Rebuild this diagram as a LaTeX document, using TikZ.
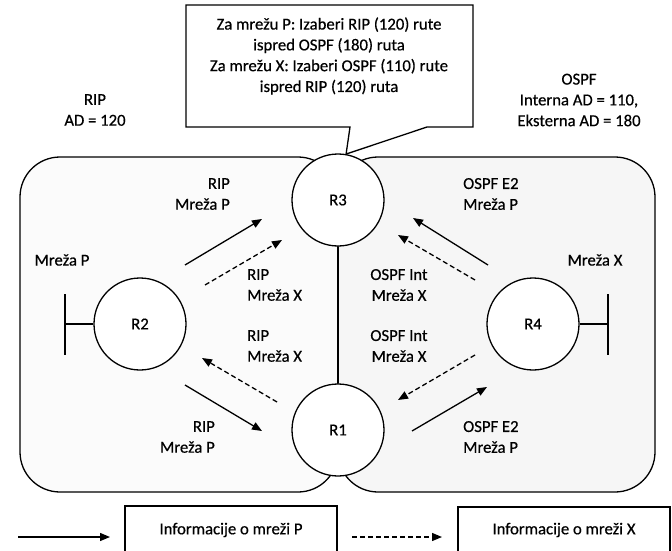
\documentclass[tikz,border=0pt]{standalone}
\usepackage{fontspec}
\setmainfont{Carlito}[FakeBold=0.5]
\usetikzlibrary{arrows.meta}
\begin{document}
\begin{tikzpicture}[x=1pt,y=-1pt,
  lw/.style={line width=1.3pt},
  txt/.style={inner sep=0pt,font=\fontsize{16.7}{20.8}\selectfont\addfontfeature{FakeBold=0.5}},
  router/.style={circle,draw,lw,fill=white,minimum size=92pt,inner sep=0pt,txt},
  solidarr/.style={lw,-{Triangle[length=10pt,width=8pt]}},
  dasharr/.style={lw,dash pattern=on 5pt off 3pt,-{Triangle[length=10pt,width=8pt]}},
  legbox/.style={draw,lw,fill=white,minimum width=212pt,minimum height=60pt,inner sep=0pt},
]
\clip (0,0) rectangle (672,551);
\fill[white] (0,0) rectangle (672,551);

% routing domains
\draw[lw,fill=gray!3,rounded corners=40pt] (20,157) rectangle (338,492);
\draw[lw,fill=gray!7,rounded corners=40pt] (338,157) rectangle (655,492);

% routers
\node[router] (R3) at (338,200) {R3};
\node[router] (R2) at (140,324) {R2};
\node[router] (R1) at (338,430) {R1};
\node[router] (R4) at (533,324) {R4};
\draw[lw] (R3) -- (R1);

% attached networks
\coordinate (PA) at (65,294); \coordinate (PB) at (65,355);
\coordinate (XA) at (608,294); \coordinate (XB) at (608,355);
\draw[lw] (R2.west) -- (PA |- R2.west);
\draw[lw] (PA) -- (PB);
\draw[lw] (R4.east) -- (XA |- R4.east);
\draw[lw] (XA) -- (XB);
\node[txt] (netP) at (62,260) {Mreža P};
\node[txt] (netX) at (595,260) {Mreža X};

% domain labels
\node[txt,align=center] (ripad) at (95,110) {RIP\\AD = 120};
\node[txt,align=center] (ospfad) at (579,100) {OSPF\\Interna AD = 110,\\Eksterna AD = 180};

% route advertisements, RIP side
\coordinate (a1s) at (185,265); \coordinate (a1e) at (262,219);
\coordinate (a2s) at (205,285); \coordinate (a2e) at (282,240);
\coordinate (a3s) at (277,402); \coordinate (a3e) at (202,358);
\coordinate (a4s) at (185,385); \coordinate (a4e) at (262,431);
\draw[solidarr] (a1s) -- (a1e);
\draw[dasharr] (a2s) -- (a2e);
\draw[dasharr] (a3s) -- (a3e);
\draw[solidarr] (a4s) -- (a4e);

% route advertisements, OSPF side
\coordinate (b1s) at (488,265); \coordinate (b1e) at (413,218);
\coordinate (b2s) at (475,280); \coordinate (b2e) at (398,235);
\coordinate (b3s) at (475,355); \coordinate (b3e) at (398,400);
\coordinate (b4s) at (412,431); \coordinate (b4e) at (487,387);
\draw[solidarr] (b1s) -- (b1e);
\draw[dasharr] (b2s) -- (b2e);
\draw[dasharr] (b3s) -- (b3e);
\draw[solidarr] (b4s) -- (b4e);

% advertisement labels
\node[txt,align=right,anchor=east] (l1) at (230,194) {RIP\\Mreža P};
\node[txt,align=left,anchor=west] (l2) at (247,285) {RIP\\Mreža X};
\node[txt,align=left,anchor=west] (l3) at (247,346) {RIP\\Mreža X};
\node[txt,align=right,anchor=east] (l4) at (215,437) {RIP\\Mreža P};
\node[txt,align=left,anchor=west] (m1) at (463,194) {OSPF E2\\Mreža P};
\node[txt,align=center] (m2) at (399,285) {OSPF Int\\Mreža X};
\node[txt,align=center] (m3) at (399,346) {OSPF Int\\Mreža X};
\node[txt,align=left,anchor=west] (m4) at (463,437) {OSPF E2\\Mreža P};

% callout
\draw[lw,fill=white] (186,5) -- (473,5) -- (473,127) -- (427,127) -- (R3.80)
  -- (350,127) -- (186,127) -- cycle;
\node[txt,align=center] (note) at (329,56)
  {Za mrežu P: Izaberi RIP (120) rute\\ispred OSPF (180) ruta\\Za mrežu X: Izaberi OSPF (110) rute\\ispred RIP (120) ruta};

% legend
\node[legbox] (boxP) at (231,536) {};
\node[legbox] (boxX) at (564,537) {};
\node[txt] (legP) at (231,530) {Informacije o mreži P};
\node[txt] (legX) at (564,530) {Informacije o mreži X};
\coordinate (s1) at (18,537); \coordinate (s2) at (110,537);
\coordinate (d1) at (352,537); \coordinate (d2) at (442,537);
\draw[solidarr] (s1) -- (s2);
\draw[dasharr] (d1) -- (d2);
\end{tikzpicture}
\end{document}
